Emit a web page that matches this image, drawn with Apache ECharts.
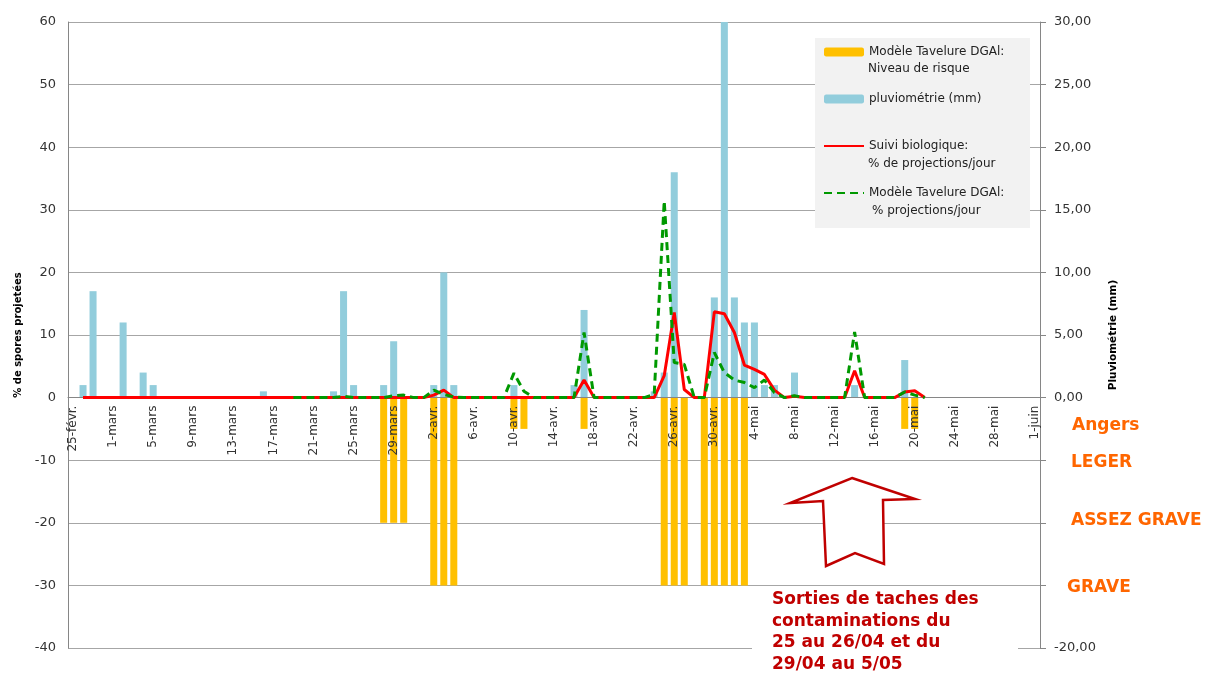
<!DOCTYPE html>
<html>
<head>
<meta charset="utf-8">
<script src="https://cdn.jsdelivr.net/npm/echarts@6.0.0/dist/echarts.min.js"></script>
<style>
  html, body { margin: 0; padding: 0; background: #fff; }
  #chart { width: 1214px; height: 673px; }
</style>
</head>
<body>
<div id="chart"></div>
<script>
// jours du 25-févr. au 1-juin
const months = ["févr.", "mars", "avr.", "mai", "juin"];
const monthRange = [[25, 28], [1, 31], [1, 30], [1, 31], [1, 1]];
const dates = [];
months.forEach((m, k) => {
  for (let d = monthRange[k][0]; d <= monthRange[k][1]; d++) dates.push(d + "-" + m);
});

// pluviométrie (mm), axe de droite
const pluie = [
  0, 1, 8.5, 0,                                  // 25-28 févr.
  0, 6, 0, 2, 1, 0, 0, 0, 0, 0,                  // 1-10 mars
  0, 0, 0, 0, 0, 0.5, 0, 0, 0, 0,                // 11-20 mars
  0, 0, 0.5, 8.5, 1, 0, 0, 1, 4.5, 0,            // 21-30 mars
  0,                                             // 31 mars
  0, 1, 10, 1, 0, 0, 0, 0, 0, 1,                 // 1-10 avr.
  0, 0, 0, 0, 0, 1, 7, 0, 0, 0,                  // 11-20 avr.
  0, 0, 0, 0.5, 2, 18, 0, 0, 0, 8,               // 21-30 avr.
  30, 8, 6, 6, 1, 1, 0, 2, 0, 0,                 // 1-10 mai
  0, 0, 0, 1, 0, 0, 0, 0, 3, 0,                  // 11-20 mai
  0, 0, 0, 0, 0, 0, 0, 0, 0, 0, 0,               // 21-31 mai
  0                                              // 1 juin
];

// niveau de risque (barres négatives)
const risque = [
  0, 0, 0, 0,
  0, 0, 0, 0, 0, 0, 0, 0, 0, 0,
  0, 0, 0, 0, 0, 0, 0, 0, 0, 0,
  0, 0, 0, 0, 0, 0, 0, -20, -20, -20,
  0,
  0, -30, -30, -30, 0, 0, 0, 0, 0, -5,
  -5, 0, 0, 0, 0, 0, -5, 0, 0, 0,
  0, 0, 0, 0, -30, -30, -30, 0, -30, -30,
  -30, -30, -30, 0, 0, 0, 0, 0, 0, 0,
  0, 0, 0, 0, 0, 0, 0, 0, -5, -5,
  0, 0, 0, 0, 0, 0, 0, 0, 0, 0, 0,
  0
];

// suivi biologique : % de projections/jour
const suivi = [
  null, 0, 0, 0,
  0, 0, 0, 0, 0, 0, 0, 0, 0, 0,
  0, 0, 0, 0, 0, 0, 0, 0, 0, 0,
  0, 0, 0, 0, 0, 0, 0, 0, 0, 0,
  0,
  0, 0.4, 1.2, 0, 0, 0, 0, 0, 0, 0,
  0, 0, 0, 0, 0, 0, 2.8, 0, 0, 0,
  0, 0, 0, 0, 3.5, 13.6, 1.3, 0, 0, 13.7,
  13.4, 10.4, 5.2, 4.5, 3.7, 1.2, 0, 0.2, 0, 0,
  0, 0, 0, 4.3, 0, 0, 0, 0, 0.9, 1.1,
  0, null, null, null, null, null, null, null, null, null, null,
  null
];

// modèle DGAl : % projections/jour
const modele = [
  null, null, null, null,
  null, null, null, null, null, null, null, null, null, null,
  null, null, null, null, null, null, null, null, 0, 0,
  0, 0, 0, 0.2, 0, 0, 0, 0, 0.3, 0.4,
  0,
  0, 1.2, 0.5, 0.1, 0, 0, 0, 0, 0, 3.9,
  1.0, 0, 0, 0, 0, 0, 10.4, 0, 0, 0,
  0, 0, 0, 0.5, 31.4, 5.6, 5.3, 0, 0, 7.2,
  4.0, 2.8, 2.4, 1.6, 2.8, 0.8, 0, 0.3, 0, 0,
  0, 0, 0, 10.5, 0, 0, 0, 0, 0.9, 0.4,
  0, null, null, null, null, null, null, null, null, null, null,
  null
];

const nomRisque = "Modèle Tavelure DGAl: Niveau de risque";
const nomPluie = "pluviométrie (mm)";
const nomSuivi = "Suivi biologique: % de projections/jour";
const nomModele = "Modèle Tavelure DGAl: % projections/jour";
const legendLine1 = {};
legendLine1[nomRisque] = "Modèle Tavelure DGAl:";
legendLine1[nomPluie] = "pluviométrie (mm)";
legendLine1[nomSuivi] = "Suivi biologique:";
legendLine1[nomModele] = "Modèle Tavelure DGAl:";

const font = "DejaVu Sans";
const orange = "#FF6600";
const darkRed = "#C00000";

// grille : haut 22, bas 648 ; le zéro est à 40 % de la hauteur
const gridTop = 22, gridBottom = 25, plotH = 673 - gridTop - gridBottom;
const zeroOffset = -plotH * 0.4;

// pas de symbole dans la légende des courbes
const noDot = { color: "transparent", borderColor: "transparent", borderWidth: 0 };

const chart = echarts.init(document.getElementById("chart"));

chart.setOption({
  animation: false,
  textStyle: { fontFamily: font },
  grid: { left: 68, right: 174, top: gridTop, bottom: gridBottom, containLabel: false, outerBoundsMode: "none" },
  legend: {
    orient: "vertical",
    left: 823,
    top: 44,
    padding: 0,
    itemGap: 31,
    itemWidth: 40,
    itemHeight: 9,
    selectedMode: false,
    data: [
      { name: nomRisque },
      { name: nomPluie },
      { name: nomSuivi, itemStyle: noDot },
      { name: nomModele, itemStyle: noDot },
    ],
    formatter: (n) => legendLine1[n],
    textStyle: { fontSize: 12, lineHeight: 16, color: "#222", fontFamily: font },
  },
  xAxis: {
    type: "category",
    data: dates,
    boundaryGap: true,
    offset: zeroOffset,
    z: 3,
    axisLine: { onZero: false, lineStyle: { color: "#868686" } },
    axisTick: { interval: 3, length: 5, lineStyle: { color: "#868686" } },
    axisLabel: { interval: 3, rotate: 90, margin: 8, fontSize: 12, color: "#333" },
  },
  yAxis: [
    {
      type: "value",
      min: -40,
      max: 60,
      interval: 10,
      name: "% de spores projetées",
      nameLocation: "middle",
      nameRotate: 90,
      nameGap: 44,
      nameTextStyle: { fontSize: 10, fontWeight: "bold", color: "#000" },
      axisLine: { show: true, lineStyle: { color: "#868686" } },
      axisTick: { show: false },
      axisLabel: { fontSize: 13, color: "#333", margin: 12 },
      splitLine: { lineStyle: { color: "#a6a6a6" } },
    },
    {
      type: "value",
      min: -20,
      max: 30,
      interval: 5,
      position: "right",
      name: "Pluviométrie (mm)",
      nameLocation: "middle",
      nameRotate: 90,
      nameGap: 68,
      nameTextStyle: { fontSize: 10.5, fontWeight: "bold", color: "#000" },
      axisLine: { show: true, lineStyle: { color: "#868686" } },
      axisTick: { show: true, length: 6, lineStyle: { color: "#868686" } },
      axisLabel: {
        fontSize: 13,
        color: "#333",
        margin: 14,
        // -5, -10 et -15 sont cachés par les niveaux de risque
        formatter: (v) => (v >= 0 || v === -20 ? v.toFixed(2).replace(".", ",") : ""),
      },
      splitLine: { show: false },
    },
  ],
  series: [
    {
      name: nomRisque,
      type: "bar",
      yAxisIndex: 0,
      data: risque,
      barWidth: "70%",
      barGap: "-100%",
      itemStyle: { color: "#FFC000" },
    },
    {
      name: nomPluie,
      type: "bar",
      yAxisIndex: 1,
      data: pluie,
      barWidth: "70%",
      barGap: "-100%",
      itemStyle: { color: "#92CDDC" },
    },
    {
      name: nomSuivi,
      type: "line",
      yAxisIndex: 0,
      data: suivi,
      symbol: "none",
      showSymbol: false,
      lineStyle: { color: "#FF0000", width: 3 },
      itemStyle: { color: "#FF0000" },
      z: 3,
    },
    {
      name: nomModele,
      type: "line",
      yAxisIndex: 0,
      data: modele,
      symbol: "none",
      showSymbol: false,
      lineStyle: { color: "#009900", width: 3, type: [8, 5] },
      itemStyle: { color: "#009900" },
      z: 4,
    },
  ],
  graphic: [
    // fond de la légende
    { type: "rect", left: 815, top: 38, z: 3, shape: { width: 215, height: 190 }, style: { fill: "#f2f2f2" } },
    { type: "text", left: 868, top: 63, z: 5, style: { text: "Niveau de risque", font: "12px " + font, fill: "#222" } },
    { type: "text", left: 868, top: 158, z: 5, style: { text: "% de projections/jour", font: "12px " + font, fill: "#222" } },
    { type: "text", left: 872, top: 205, z: 5, style: { text: "% projections/jour", font: "12px " + font, fill: "#222" } },
    // niveaux de risque
    { type: "text", left: 1072, top: 417, z: 5, style: { text: "Angers", font: "bold 17px " + font, fill: orange } },
    { type: "text", left: 1071, top: 454, z: 5, style: { text: "LEGER", font: "bold 17px " + font, fill: orange } },
    { type: "text", left: 1071, top: 512, z: 5, style: { text: "ASSEZ GRAVE", font: "bold 17px " + font, fill: orange } },
    { type: "text", left: 1067, top: 579, z: 5, style: { text: "GRAVE", font: "bold 17px " + font, fill: orange } },
    // flèche
    {
      type: "polygon",
      z: 5,
      shape: {
        points: [[852, 478], [915, 499], [883, 500], [884, 564], [855, 553], [826, 566], [823, 501], [790, 503]],
      },
      style: { fill: "#fff", stroke: darkRed, lineWidth: 2.5 },
    },
    // texte
    { type: "rect", left: 752, top: 589, z: 5, shape: { width: 266, height: 84 }, style: { fill: "#fff" } },
    {
      type: "text",
      left: 772,
      top: 589,
      z: 6,
      style: {
        text: "Sorties de taches des\ncontaminations du\n25 au 26/04 et du\n29/04 au 5/05",
        font: "bold 17px " + font,
        lineHeight: 21.5,
        fill: darkRed,
      },
    },
  ],
});
</script>
</body>
</html>
